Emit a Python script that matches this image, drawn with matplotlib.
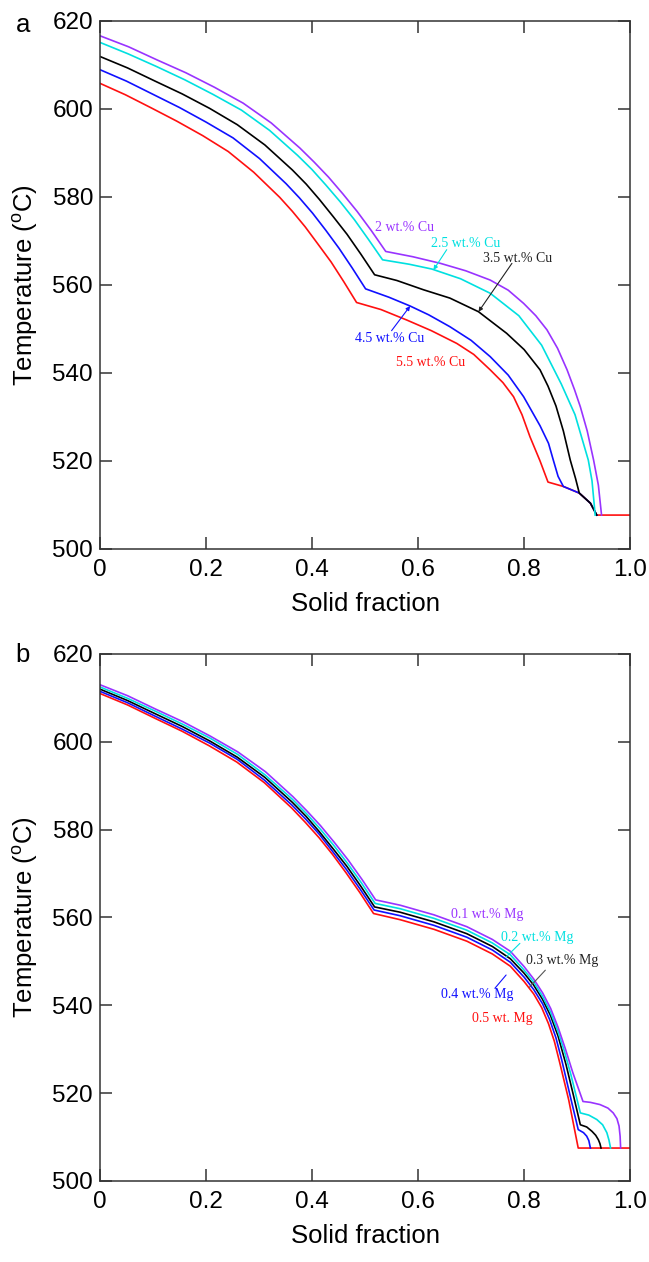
import matplotlib
matplotlib.use("Agg")
import matplotlib.pyplot as plt

plt.rcParams["font.family"] = ["Liberation Sans", "DejaVu Sans"]
plt.rcParams["mathtext.default"] = "regular"

# ---- panel a: Cu content ----
cu2_x = [0, 0.054, 0.108, 0.162, 0.216, 0.270, 0.323, 0.377, 0.404, 0.431, 0.458, 0.485,
         0.512, 0.539, 0.59, 0.642, 0.69, 0.736, 0.770, 0.799, 0.822, 0.843, 0.863,
         0.881, 0.895, 0.906, 0.919, 0.931, 0.940, 0.946]
cu2_t = [616.6, 614.1, 611.1, 608.2, 604.9, 601.3, 596.8, 591.1, 587.9, 584.5, 580.7, 576.7,
         572.3, 567.6, 566.4, 564.9, 563.2, 561.1, 558.8, 555.8, 553.0, 549.8, 545.6,
         540.7, 536.2, 532.3, 526.8, 520.2, 514.5, 507.7]

cu25_x = [0, 0.053, 0.107, 0.160, 0.213, 0.267, 0.320, 0.373, 0.400, 0.426, 0.453, 0.480,
          0.506, 0.533, 0.583, 0.626, 0.680, 0.736, 0.790, 0.833, 0.870, 0.896, 0.921,
          0.928, 0.934]
cu25_t = [615.1, 612.5, 609.6, 606.6, 603.3, 599.7, 595.1, 589.4, 586.2, 582.7, 578.9, 574.8,
          570.4, 565.7, 564.7, 563.6, 561.4, 558.1, 553.0, 546.3, 537.5, 530.5, 520.2,
          515.5, 507.7]

cu35_x = [0, 0.052, 0.104, 0.155, 0.207, 0.259, 0.311, 0.363, 0.389, 0.414, 0.440, 0.466,
          0.492, 0.518, 0.560, 0.610, 0.660, 0.714, 0.767, 0.800, 0.830, 0.845, 0.860,
          0.874, 0.887, 0.897, 0.904, 0.925, 0.937]
cu35_t = [611.9, 609.3, 606.3, 603.4, 600.1, 596.4, 591.8, 586.1, 582.9, 579.4, 575.5, 571.5,
          567.0, 562.3, 561.0, 558.9, 557.0, 553.9, 549.0, 545.3, 540.7, 537.0, 532.5,
          526.8, 520.2, 516.0, 512.7, 510.4, 507.7]

cu45_x = [0, 0.050, 0.100, 0.150, 0.200, 0.251, 0.301, 0.351, 0.376, 0.401, 0.426, 0.451,
          0.476, 0.501, 0.545, 0.585, 0.620, 0.660, 0.700, 0.736, 0.770, 0.799, 0.830,
          0.846, 0.855, 0.864, 0.874, 0.904, 0.925, 0.937]
cu45_t = [608.9, 606.3, 603.3, 600.3, 597.0, 593.4, 588.7, 583.0, 579.8, 576.3, 572.4, 568.3,
          563.8, 559.1, 557.2, 555.2, 553.2, 550.5, 547.4, 543.7, 539.5, 534.6, 528.0,
          524.0, 520.2, 516.5, 514.2, 512.7, 510.4, 507.7]

cu55_x = [0, 0.048, 0.097, 0.145, 0.194, 0.242, 0.290, 0.339, 0.363, 0.387, 0.411, 0.436,
          0.460, 0.484, 0.530, 0.579, 0.625, 0.673, 0.705, 0.736, 0.760, 0.780, 0.796,
          0.811, 0.830, 0.845, 0.874, 0.904, 0.925, 0.937, 1.0]
cu55_t = [605.8, 603.2, 600.2, 597.2, 593.9, 590.3, 585.6, 579.9, 576.7, 573.2, 569.3, 565.2,
          560.7, 556.0, 554.4, 552.0, 549.6, 546.7, 544.2, 540.7, 537.8, 534.6, 530.5,
          525.5, 520.0, 515.2, 514.2, 512.7, 510.4, 507.7, 507.7]

# ---- panel b: Mg content ----
mg1_x = [0, 0.052, 0.104, 0.156, 0.208, 0.260, 0.312, 0.364, 0.390, 0.416, 0.442, 0.468,
         0.494, 0.520, 0.566, 0.630, 0.692, 0.740, 0.774, 0.800, 0.818, 0.835, 0.850,
         0.864, 0.878, 0.892, 0.911, 0.925, 0.943, 0.958, 0.968, 0.975, 0.979, 0.981,
         0.982]
mg1_t = [613.0, 610.5, 607.5, 604.6, 601.3, 597.7, 593.2, 587.5, 584.3, 580.9, 577.1, 573.1,
         568.7, 564.0, 562.8, 560.6, 557.9, 555.0, 552.3, 548.8, 546.0, 542.8, 539.3,
         535.0, 530.0, 524.6, 518.1, 517.9, 517.4, 516.6, 515.5, 514.2, 512.5, 510.2,
         507.5]

mg2_x = [0, 0.052, 0.104, 0.156, 0.208, 0.260, 0.311, 0.363, 0.389, 0.415, 0.441, 0.467,
         0.493, 0.519, 0.566, 0.630, 0.692, 0.740, 0.774, 0.800, 0.818, 0.835, 0.850,
         0.864, 0.876, 0.888, 0.906, 0.922, 0.937, 0.948, 0.956, 0.960, 0.963]
mg2_t = [612.5, 609.9, 607.0, 604.0, 600.8, 597.1, 592.5, 586.9, 583.7, 580.2, 576.4, 572.3,
         567.9, 563.2, 562.0, 559.8, 557.1, 554.2, 551.5, 548.0, 545.3, 542.0, 538.4,
         534.0, 529.5, 524.3, 515.5, 515.0, 514.0, 512.8, 511.0, 509.3, 507.5]

mg3_x = [0, 0.052, 0.104, 0.155, 0.207, 0.259, 0.311, 0.363, 0.389, 0.414, 0.440, 0.466,
         0.492, 0.518, 0.566, 0.630, 0.692, 0.740, 0.774, 0.800, 0.818, 0.835, 0.850,
         0.864, 0.879, 0.893, 0.906, 0.918, 0.928, 0.935, 0.940, 0.943, 0.945]
mg3_t = [612.0, 609.4, 606.4, 603.5, 600.2, 596.5, 591.9, 586.2, 583.0, 579.5, 575.6, 571.6,
         567.1, 562.4, 561.2, 559.0, 556.3, 553.4, 550.6, 547.3, 544.6, 541.3, 537.6,
         533.0, 526.5, 519.5, 512.8, 512.3, 511.3, 510.4, 509.4, 508.5, 507.5]

mg4_x = [0, 0.052, 0.103, 0.155, 0.207, 0.259, 0.310, 0.362, 0.388, 0.414, 0.439, 0.465,
         0.491, 0.517, 0.566, 0.630, 0.692, 0.740, 0.774, 0.800, 0.818, 0.835, 0.848,
         0.860, 0.871, 0.886, 0.902, 0.912, 0.918, 0.922, 0.925]
mg4_t = [611.5, 608.9, 605.9, 602.9, 599.7, 596.0, 591.3, 585.6, 582.4, 578.9, 575.0, 570.9,
         566.4, 561.7, 560.4, 558.2, 555.5, 552.6, 549.8, 546.4, 543.6, 540.3, 536.8,
         532.6, 527.5, 519.8, 511.7, 511.0, 510.2, 509.2, 507.5]

mg5_x = [0, 0.052, 0.103, 0.155, 0.206, 0.258, 0.310, 0.361, 0.387, 0.413, 0.439, 0.464,
         0.490, 0.516, 0.566, 0.630, 0.692, 0.740, 0.774, 0.800, 0.818, 0.833, 0.846,
         0.857, 0.867, 0.884, 0.902, 1.0]
mg5_t = [611.0, 608.4, 605.4, 602.4, 599.1, 595.4, 590.7, 585.0, 581.7, 578.2, 574.3, 570.2,
         565.7, 560.9, 559.5, 557.3, 554.6, 551.7, 548.9, 545.4, 542.6, 539.5, 535.8,
         531.8, 527.0, 518.5, 507.5, 507.5]

purple = "#9933FF"
cyan = "#00E0E0"
blue = "#1010FF"
red = "#FF1010"
black = "#000000"

fig = plt.figure(figsize=(6.49, 12.62), dpi=100)
ax_a = fig.add_axes([0.154, 0.565, 0.817, 0.4185])
ax_b = fig.add_axes([0.154, 0.0642, 0.817, 0.4176])

lw = 1.2
ax_a.plot(cu55_x, cu55_t, color=red, lw=lw)
ax_a.plot(cu45_x, cu45_t, color=blue, lw=lw)
ax_a.plot(cu35_x, cu35_t, color=black, lw=lw)
ax_a.plot(cu25_x, cu25_t, color=cyan, lw=lw)
ax_a.plot(cu2_x, cu2_t, color=purple, lw=lw)

ax_b.plot(mg5_x, mg5_t, color=red, lw=lw)
ax_b.plot(mg4_x, mg4_t, color=blue, lw=lw)
ax_b.plot(mg3_x, mg3_t, color=black, lw=lw)
ax_b.plot(mg2_x, mg2_t, color=cyan, lw=lw)
ax_b.plot(mg1_x, mg1_t, color=purple, lw=lw)

# curve labels (serif, like the original)
lab = dict(family=["Liberation Serif", "DejaVu Serif"], fontsize=10, ha="center", va="center")
arr = dict(arrowstyle="-|>", lw=0.8, mutation_scale=6, shrinkA=0, shrinkB=0)

ax_a.text(0.575, 573.0, "2 wt.% Cu", color=purple, **lab)
ax_a.text(0.690, 569.5, "2.5 wt.% Cu", color=cyan, **lab)
ax_a.annotate("", xy=(0.629, 563.4), xytext=(0.654, 568.0),
              arrowprops=dict(arr, color=cyan))
ax_a.text(0.788, 566.0, "3.5 wt.% Cu", color="#222222", **lab)
ax_a.annotate("", xy=(0.714, 553.9), xytext=(0.777, 564.9),
              arrowprops=dict(arr, color="#222222"))
ax_a.text(0.547, 547.9, "4.5 wt.% Cu", color=blue, **lab)
ax_a.annotate("", xy=(0.585, 555.2), xytext=(0.550, 549.6),
              arrowprops=dict(arr, color=blue))
ax_a.text(0.623, 542.3, "5.5 wt.% Cu", color=red, **lab)

line = dict(arrowstyle="-", lw=0.8, shrinkA=0, shrinkB=0)
ax_b.text(0.731, 560.7, "0.1 wt.% Mg", color=purple, **lab)
ax_b.text(0.825, 555.5, "0.2 wt.% Mg", color=cyan, **lab)
ax_b.annotate("", xy=(0.766, 551.0), xytext=(0.792, 554.1),
              arrowprops=dict(line, color=cyan))
ax_b.text(0.871, 550.2, "0.3 wt.% Mg", color="#222222", **lab)
ax_b.annotate("", xy=(0.810, 544.1), xytext=(0.840, 548.0),
              arrowprops=dict(line, color="#555555"))
ax_b.text(0.711, 542.5, "0.4 wt.% Mg", color=blue, **lab)
ax_b.annotate("", xy=(0.766, 546.9), xytext=(0.745, 543.9),
              arrowprops=dict(line, color=blue))
ax_b.text(0.758, 536.9, "0.5 wt. Mg", color=red, **lab)

for ax in (ax_a, ax_b):
    ax.set_xlim(0, 1.0)
    ax.set_ylim(500, 620)
    ax.set_xticks([0, 0.2, 0.4, 0.6, 0.8, 1.0])
    ax.set_xticklabels(["0", "0.2", "0.4", "0.6", "0.8", "1.0"])
    ax.set_yticks([500, 520, 540, 560, 580, 600, 620])
    ax.tick_params(direction="in", length=8.5, width=1.1, top=True, right=True,
                   labelsize=17.5, color="#333333")
    ax.tick_params(axis="x", pad=7)
    ax.tick_params(axis="y", pad=5)
    for s in ax.spines.values():
        s.set_linewidth(1.1)
        s.set_color("#333333")
    ax.set_xlabel("Solid fraction", fontsize=18.5, labelpad=8)
    ax.set_ylabel("Temperature ($^{o}$C)", fontsize=18.5, labelpad=9)

fig.text(0.035, 0.980, "a", fontsize=18.5, ha="center", va="center")
fig.text(0.035, 0.481, "b", fontsize=18.5, ha="center", va="center")

fig.savefig("out.png", dpi=100)
